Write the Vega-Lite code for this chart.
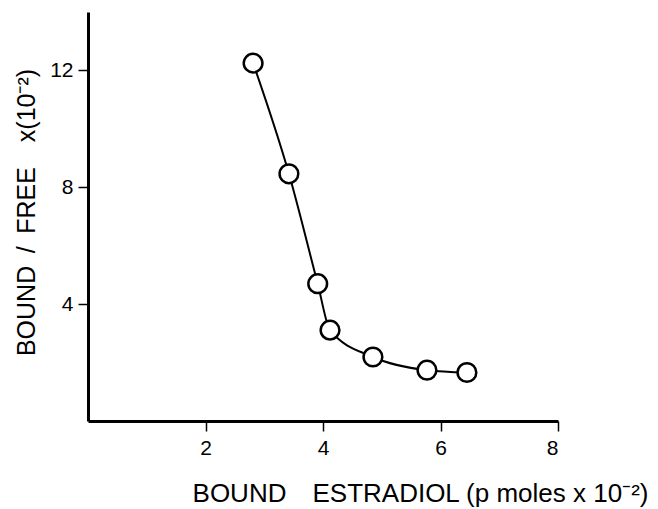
{
  "$schema": "https://vega.github.io/schema/vega-lite/v6.json",
  "width": 470,
  "height": 409,
  "autosize": "none",
  "padding": {"left": 88, "top": 12, "right": 100, "bottom": 88},
  "background": "white",
  "config": {
    "view": {"stroke": null},
    "font": "Liberation Sans"
  },
  "data": {
    "values": [
      {"bound": 2.81, "ratio": 12.25},
      {"bound": 3.42, "ratio": 8.46},
      {"bound": 3.91, "ratio": 4.70},
      {"bound": 4.12, "ratio": 3.11},
      {"bound": 4.85, "ratio": 2.19},
      {"bound": 5.77, "ratio": 1.74},
      {"bound": 6.45, "ratio": 1.66}
    ]
  },
  "encoding": {
    "x": {
      "field": "bound",
      "type": "quantitative",
      "scale": {"domain": [0, 8], "nice": false, "zero": false},
      "axis": {
        "grid": false,
        "domainColor": "black",
        "domainWidth": 3,
        "tickColor": "black",
        "tickWidth": 1.5,
        "tickSize": 10,
        "labelColor": "black",
        "labelFont": "Liberation Sans",
        "labelFontSize": 21,
        "labelPadding": 6,
        "values": [2, 4, 6, 8],
        "title": "BOUND\u2003ESTRADIOL (p moles x 10⁻²)",
        "titleColor": "black",
        "titleFont": "Liberation Sans",
        "titleFontWeight": "normal",
        "titleFontSize": 26,
        "titleX": 332,
        "titleY": 80,
        "titleAlign": "center",
        "titleBaseline": "alphabetic"
      }
    },
    "y": {
      "field": "ratio",
      "type": "quantitative",
      "scale": {"domain": [0, 14], "nice": false},
      "axis": {
        "grid": false,
        "domainColor": "black",
        "domainWidth": 3,
        "tickColor": "black",
        "tickWidth": 1.5,
        "tickSize": 10,
        "labelColor": "black",
        "labelFont": "Liberation Sans",
        "labelFontSize": 21,
        "labelPadding": 5,
        "values": [4, 8, 12],
        "title": "BOUND\u2002/\u2002FREE\u2003x(10⁻²)",
        "titleColor": "black",
        "titleFont": "Liberation Sans",
        "titleFontWeight": "normal",
        "titleFontSize": 25,
        "titleX": -62,
        "titleY": 200,
        "titleAngle": 270,
        "titleAlign": "center",
        "titleBaseline": "middle"
      }
    }
  },
  "layer": [
    {
      "mark": {"type": "line", "color": "black", "strokeWidth": 2, "interpolate": "monotone"}
    },
    {
      "mark": {"type": "point", "shape": "circle", "filled": true, "fill": "white", "stroke": "black", "strokeWidth": 2.5, "size": 350, "opacity": 1}
    }
  ]
}
